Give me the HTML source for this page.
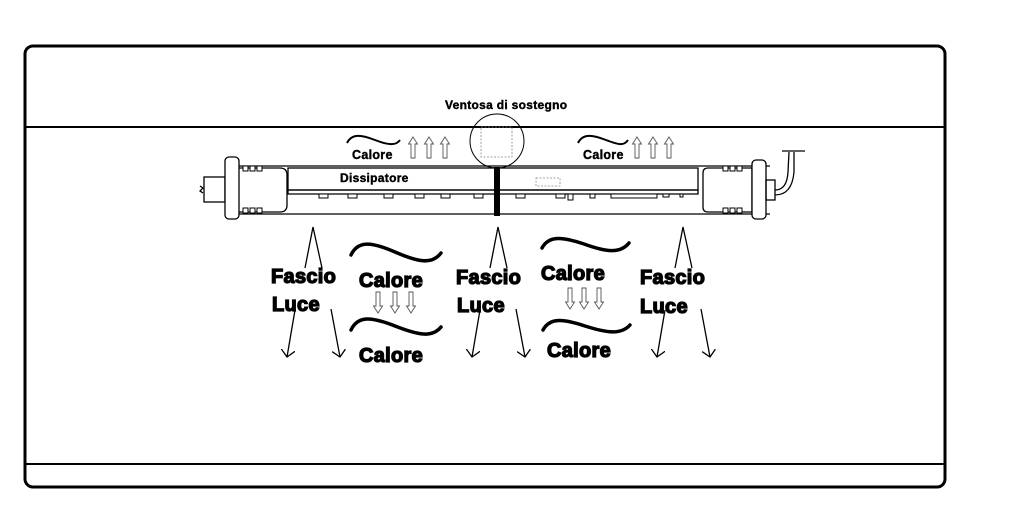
<!DOCTYPE html>
<html><head><meta charset="utf-8"><style>
html,body{margin:0;padding:0;background:#fff;}
svg{display:block;}
text{font-family:"Liberation Sans",Arial,sans-serif;font-weight:bold;fill:#000;}
.big{font-size:20px;stroke:#000;stroke-width:1.3px;letter-spacing:0.3px;}
.sm{font-size:12.5px;stroke:#000;stroke-width:0.4px;letter-spacing:0.3px;}
</style></head><body>
<svg width="1027" height="528" viewBox="0 0 1027 528" xmlns="http://www.w3.org/2000/svg">
<defs>
<marker id="ah" markerWidth="14" markerHeight="14" refX="7" refY="7" orient="auto" markerUnits="userSpaceOnUse">
<path d="M0,0 L7,7 L0,14" fill="none" stroke="#000" stroke-width="1.3"/>
</marker>
<g id="light" fill="none" stroke="#000" stroke-width="1.3">
<path d="M305,268 L313,227 L322,268"/>
<path d="M295,310 L287,357" marker-end="url(#ah)"/>
<path d="M331,309 L340,357" marker-end="url(#ah)"/>
</g>
<g id="upar" fill="#fff" stroke="#555" stroke-width="0.9">
<path d="M-2,158 L-2,144 L-4.5,144 L0,137 L4.5,144 L2,144 L2,158 Z"/>
</g>
<g id="dnar" fill="#fff" stroke="#555" stroke-width="0.9">
<path d="M-2,0 L-2,14 L-4.5,14 L0,21 L4.5,14 L2,14 L2,0 Z"/>
</g>
</defs>
<rect x="25" y="46" width="920" height="441" rx="8" fill="none" stroke="#000" stroke-width="3"/>
<line x1="25" y1="127" x2="945" y2="127" stroke="#000" stroke-width="2"/>
<line x1="25" y1="464" x2="945" y2="464" stroke="#000" stroke-width="2"/>

<text x="445" y="109" class="sm" style="font-size:12px">Ventosa di sostegno</text>
<ellipse cx="497" cy="141" rx="27" ry="27" fill="none" stroke="#000" stroke-width="1"/>
<rect x="481" y="127" width="31" height="30" fill="none" stroke="#888" stroke-width="0.8" stroke-dasharray="2,1.5"/>

<path d="M347,143 C352,133 362,135 375,140 C388,145 396,146 400,140" fill="none" stroke="#000" stroke-width="2"/>
<text x="352" y="159" class="sm">Calore</text>
<use href="#upar" x="413"/><use href="#upar" x="429"/><use href="#upar" x="445"/>
<path d="M578,143 C583,133 593,135 606,140 C619,145 624,146 628,140" fill="none" stroke="#000" stroke-width="2"/>
<text x="583" y="159" class="sm">Calore</text>
<use href="#upar" x="637"/><use href="#upar" x="653"/><use href="#upar" x="669"/>

<g fill="none" stroke="#000" stroke-width="1.3">
<rect x="204" y="177" width="21" height="25"/>
<path d="M200,186 l3,2 l-3,3 l3,2"/>
<rect x="225" y="157" width="14" height="62" rx="4" fill="#fff"/>
<path d="M239,166 L770,166 M239,214 L770,214"/>
<path d="M239,168 L280,168 Q287,168 287,175 L287,205 Q287,212 280,212 L239,212"/>
<rect x="288" y="168" width="410" height="22"/>
<path d="M288,190 L698,190 L698,194 L288,194 Z"/>
<path d="M708,168 L752,168 L752,212 L708,212 Q703,212 703,207 L703,173 Q703,168 708,168 Z"/>
<rect x="752" y="160" width="14" height="59" rx="4" fill="#fff"/>
<rect x="766" y="180" width="9" height="20"/>
<path d="M775,190 Q787,190 788,172 L789,152 M775,195 Q792,195 794,172 L794,152 M782,151 L805,151"/>
</g>
<g fill="#fff" stroke="#000" stroke-width="1">
<rect x="243" y="166" width="5" height="5"/><rect x="250" y="166" width="5" height="5"/><rect x="257" y="166" width="5" height="5"/>
<rect x="243" y="208" width="5" height="5"/><rect x="250" y="208" width="5" height="5"/><rect x="257" y="208" width="5" height="5"/>
<rect x="723" y="166" width="5" height="5"/><rect x="730" y="166" width="5" height="5"/><rect x="737" y="166" width="5" height="5"/>
<rect x="723" y="208" width="5" height="5"/><rect x="730" y="208" width="5" height="5"/><rect x="737" y="208" width="5" height="5"/>
<rect x="319" y="194" width="9" height="4"/><rect x="348" y="194" width="9" height="4"/><rect x="384" y="194" width="9" height="4"/>
<rect x="415" y="194" width="9" height="4"/><rect x="441" y="194" width="9" height="4"/><rect x="474" y="194" width="9" height="4"/>
<rect x="516" y="194" width="9" height="4"/><rect x="556" y="194" width="9" height="4"/><rect x="568" y="194" width="5" height="6"/>
<rect x="590" y="194" width="5" height="4"/><rect x="611" y="194" width="46" height="4"/><rect x="663" y="194" width="6" height="3"/>
<rect x="680" y="194" width="3" height="3"/>
</g>
<rect x="536" y="178" width="24" height="8" fill="none" stroke="#888" stroke-width="0.8" stroke-dasharray="2,1.5"/>
<rect x="494" y="167" width="6" height="49" fill="#000"/>
<text x="340" y="182" class="sm" style="font-size:12px">Dissipatore</text>

<use href="#light"/>
<use href="#light" x="185"/>
<use href="#light" x="370"/>
<text x="271" y="283" class="big">Fascio</text>
<text x="272" y="311" class="big">Luce</text>
<text x="456" y="284" class="big">Fascio</text>
<text x="457" y="312" class="big">Luce</text>
<text x="640" y="284" class="big">Fascio</text>
<text x="640" y="313" class="big">Luce</text>

<g fill="none" stroke="#000" stroke-width="3.5" stroke-linecap="round">
<path d="M351,255 C358,240 372,242 395,252 C418,262 432,265 441,253"/>
<path d="M351,330 C358,315 372,317 395,326 C418,335 432,338 441,327"/>
<path d="M542,248 C549,235 563,237 584,244 C606,252 620,254 629,243"/>
<path d="M543,330 C550,317 564,319 585,326 C607,333 621,335 630,325"/>
</g>
<text x="359" y="287" class="big">Calore</text>
<text x="359" y="362" class="big">Calore</text>
<text x="541" y="280" class="big">Calore</text>
<text x="547" y="357" class="big">Calore</text>
<use href="#dnar" x="378" y="292"/><use href="#dnar" x="395" y="292"/><use href="#dnar" x="411" y="292"/>
<use href="#dnar" x="570" y="288"/><use href="#dnar" x="584" y="288"/><use href="#dnar" x="599" y="288"/>
</svg>
</body></html>
